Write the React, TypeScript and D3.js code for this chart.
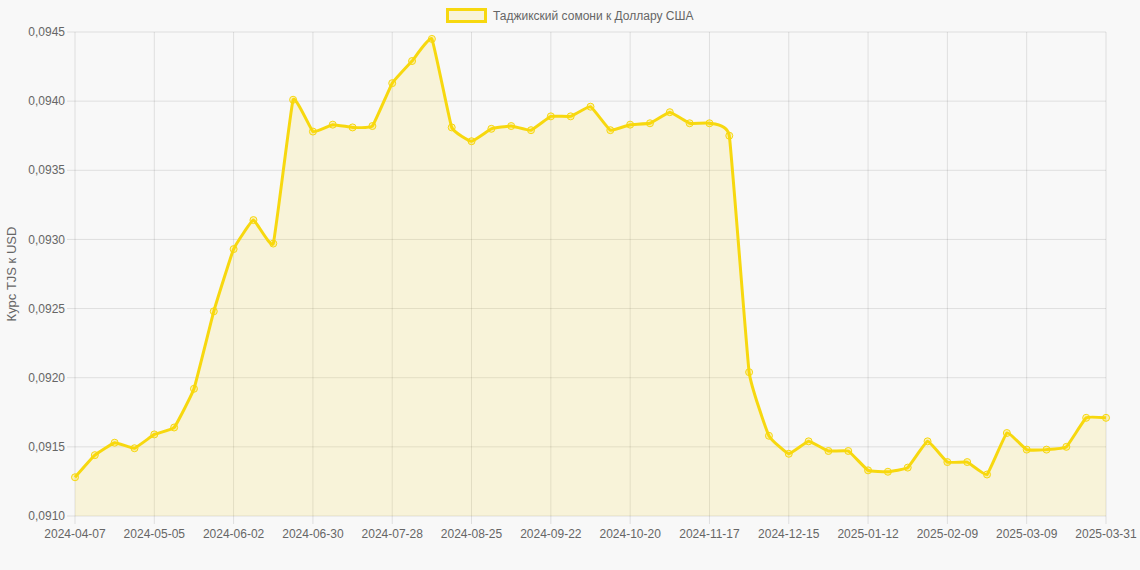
import React from "react";
import * as d3 from "d3";

const dates: string[] = [
  "2024-04-07", "2024-04-14", "2024-04-21", "2024-04-28", "2024-05-05", "2024-05-12", "2024-05-19",
  "2024-05-26", "2024-06-02", "2024-06-09", "2024-06-16", "2024-06-23", "2024-06-30", "2024-07-07",
  "2024-07-14", "2024-07-21", "2024-07-28", "2024-08-04", "2024-08-11", "2024-08-18", "2024-08-25",
  "2024-09-01", "2024-09-08", "2024-09-15", "2024-09-22", "2024-09-29", "2024-10-06", "2024-10-13",
  "2024-10-20", "2024-10-27", "2024-11-03", "2024-11-10", "2024-11-17", "2024-11-24", "2024-12-01",
  "2024-12-08", "2024-12-15", "2024-12-22", "2024-12-29", "2025-01-05", "2025-01-12", "2025-01-19",
  "2025-01-26", "2025-02-02", "2025-02-09", "2025-02-16", "2025-02-23", "2025-03-02", "2025-03-09",
  "2025-03-16", "2025-03-23", "2025-03-30", "2025-03-31",
];

const rates: number[] = [
  0.09128, 0.09144, 0.09153, 0.09149, 0.09159, 0.09164, 0.09192,
  0.09248, 0.09293, 0.09314, 0.09297, 0.09401, 0.09378, 0.09383,
  0.09381, 0.09382, 0.09413, 0.09429, 0.09445, 0.09381, 0.09371,
  0.0938, 0.09382, 0.09379, 0.09389, 0.09389, 0.09396, 0.09379,
  0.09383, 0.09384, 0.09392, 0.09384, 0.09384, 0.09375, 0.09204,
  0.09158, 0.09145, 0.09154, 0.09147, 0.09147, 0.09133, 0.09132,
  0.09135, 0.09154, 0.09139, 0.09139, 0.0913, 0.0916, 0.09148,
  0.09148, 0.0915, 0.09171, 0.09171,
];

const xTickLabels: string[] = [
  "2024-04-07", "2024-05-05", "2024-06-02", "2024-06-30", "2024-07-28", "2024-08-25", "2024-09-22",
  "2024-10-20", "2024-11-17", "2024-12-15", "2025-01-12", "2025-02-09", "2025-03-09", "2025-03-31",
];

const yTicks: number[] = [0.091, 0.0915, 0.092, 0.0925, 0.093, 0.0935, 0.094, 0.0945];

const seriesLabel = "Таджикский сомони к Доллару США";
const yTitle = "Курс TJS к USD";

const W = 1140;
const H = 570;
const left = 75;
const right = 1106;
const top = 32;
const bottom = 516;
const FONT = "'Liberation Sans', Arial, Helvetica, sans-serif";
const LINE = "#f7d80f";
const FILL = "rgba(255, 215, 0, 0.12)";
const GRID = "rgba(0,0,0,0.1)";
const TEXT = "#666";

export default function App() {
  const x = d3.scalePoint<string>().domain(dates).range([left, right]);
  const y = d3.scaleLinear().domain([0.091, 0.0945]).range([bottom, top]);
  const data = dates.map((d, i) => ({ d, v: rates[i] }));
  const curve = d3.curveCardinal.tension(0.7);
  const line = d3
    .line<{ d: string; v: number }>()
    .x((p) => x(p.d) as number)
    .y((p) => y(p.v))
    .curve(curve);
  const area = d3
    .area<{ d: string; v: number }>()
    .x((p) => x(p.d) as number)
    .y0(bottom)
    .y1((p) => y(p.v))
    .curve(curve);
  const fmt = (v: number) => v.toFixed(4).replace(".", ",");

  return (
    <svg
      width={W}
      height={H}
      style={{ position: "absolute", left: 0, top: 0, display: "block" }}
      fontFamily={FONT}
    >
      <rect x={0} y={0} width={W} height={H} fill="#f8f8f8" />
      {yTicks.map((t) => (
        <g key={"y" + t}>
          <line x1={left - 8} x2={right} y1={y(t)} y2={y(t)} stroke={GRID} strokeWidth={1} />
          <text x={left - 10} y={y(t)} dy="0.35em" textAnchor="end" fontSize={12} fill={TEXT}>
            {fmt(t)}
          </text>
        </g>
      ))}
      {xTickLabels.map((lbl) => (
        <g key={"x" + lbl}>
          <line x1={x(lbl)} x2={x(lbl)} y1={top} y2={bottom + 8} stroke={GRID} strokeWidth={1} />
          <text x={x(lbl)} y={534} dy="0.35em" textAnchor="middle" fontSize={12} fill={TEXT}>
            {lbl}
          </text>
        </g>
      ))}
      <path d={area(data) || ""} fill={FILL} />
      <path d={line(data) || ""} fill="none" stroke={LINE} strokeWidth={3} strokeLinejoin="round" />
      {data.map((p) => (
        <circle
          key={"p" + p.d}
          cx={x(p.d)}
          cy={y(p.v)}
          r={3.5}
          fill="rgba(255, 215, 0, 0.25)"
          stroke={LINE}
          strokeWidth={1}
        />
      ))}
      <text
        transform={`translate(16, ${(top + bottom) / 2}) rotate(-90)`}
        textAnchor="middle"
        fontSize={13}
        fill={TEXT}
      >
        {yTitle}
      </text>
      <rect x={447.5} y={9.5} width={38} height={12} fill={FILL} stroke={LINE} strokeWidth={3} />
      <text x={493} y={15.5} dy="0.35em" fontSize={12} fill={TEXT}>
        {seriesLabel}
      </text>
    </svg>
  );
}
